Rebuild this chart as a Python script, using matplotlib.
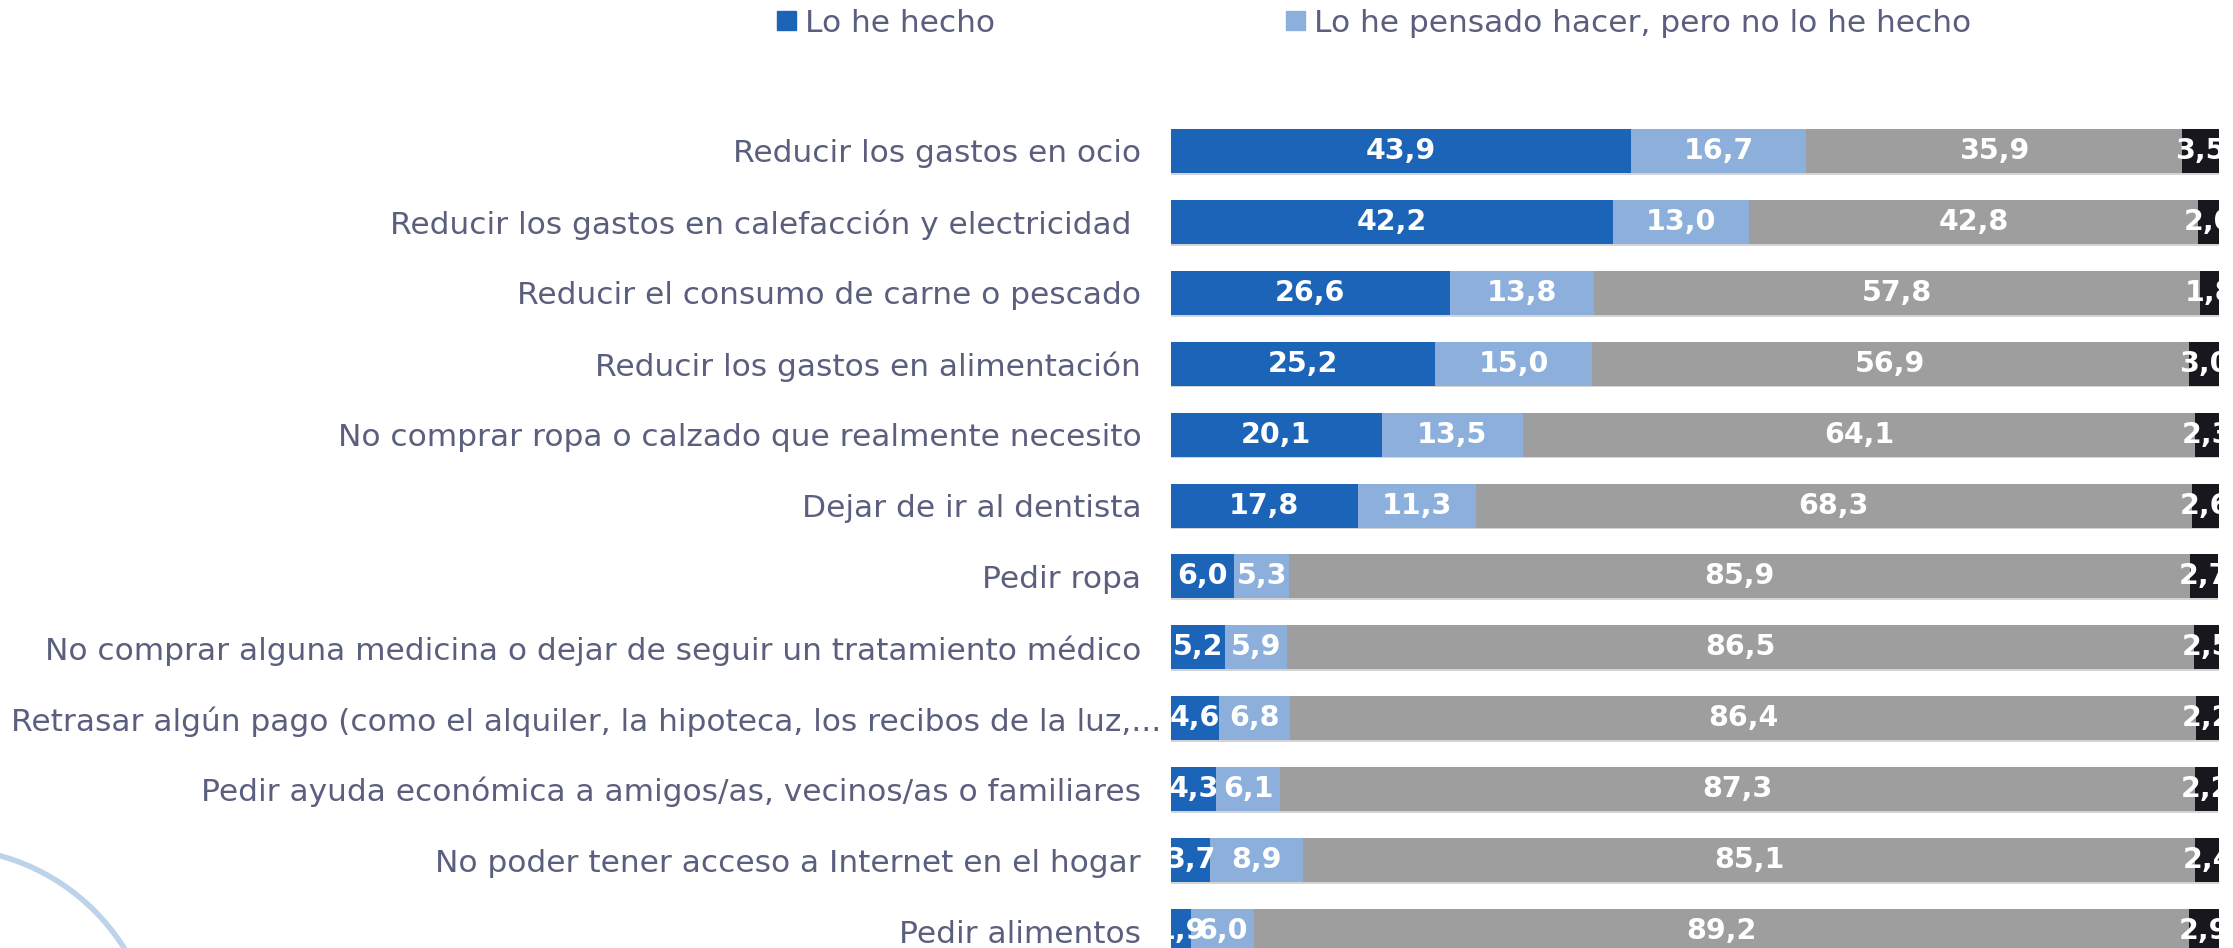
import matplotlib.pyplot as plt
from matplotlib.patches import Ellipse, Patch
from matplotlib.transforms import ScaledTranslation
import numpy as np

# Datos (porcentajes)
categorias = [
    "Reducir los gastos en ocio",
    "Reducir los gastos en calefacción y electricidad ",
    "Reducir el consumo de carne o pescado",
    "Reducir los gastos en alimentación",
    "No comprar ropa o calzado que realmente necesito",
    "Dejar de ir al dentista",
    "Pedir ropa",
    "No comprar alguna medicina o dejar de seguir un tratamiento médico",
    "Retrasar algún pago (como el alquiler, la hipoteca, los recibos de la luz,...",
    "Pedir ayuda económica a amigos/as, vecinos/as o familiares",
    "No poder tener acceso a Internet en el hogar",
    "Pedir alimentos",
]
hecho = [43.9, 42.2, 26.6, 25.2, 20.1, 17.8, 6.0, 5.2, 4.6, 4.3, 3.7, 1.9]
pensado = [16.7, 13.0, 13.8, 15.0, 13.5, 11.3, 5.3, 5.9, 6.8, 6.1, 8.9, 6.0]
no_hecho = [35.9, 42.8, 57.8, 56.9, 64.1, 68.3, 85.9, 86.5, 86.4, 87.3, 85.1, 89.2]
ns_nc = [3.5, 2.0, 1.8, 3.0, 2.3, 2.6, 2.7, 2.5, 2.2, 2.2, 2.4, 2.9]

series = [hecho, pensado, no_hecho, ns_nc]
nombres = ["Lo he hecho", "Lo he pensado hacer, pero no lo he hecho",
           "No lo he hecho ni lo he pensado", "NS/NC"]
colores = ["#1b64b7", "#8cb0db", "#9d9e9d", "#17171d"]

texto_color = "#5b5f7e"
plt.rcParams['font.family'] = ['DejaVu Sans']

fig = plt.figure(figsize=(22.33, 9.48), dpi=100)
W, H = 2233, 948
x0, x1 = 1171, 2219
top, bot = 115.5, 966.5
ax = fig.add_axes([x0 / W, (H - bot) / H, (x1 - x0) / W, (bot - top) / H])

y = np.arange(len(categorias))
alto = 0.62

# sombra bajo cada barra
totales = np.sum(series, axis=0)
ax.barh(y + 0.025, totales, height=alto, color="#d4d4d4", zorder=1)

izq = np.zeros(len(categorias))
for vals, col, nom in zip(series, colores, nombres):
    vals = np.array(vals)
    ax.barh(y, vals, left=izq, height=alto, color=col, label=nom, zorder=2)
    for yi, l, v in zip(y, izq, vals):
        ax.text(l + v / 2, yi, f"{v:.1f}".replace(".", ","), ha="center", va="center",
                color="white", fontsize=20.5, fontweight="bold", zorder=3, clip_on=True)
    izq += vals

ax.set_xlim(0, 100)
ax.set_ylim(len(categorias) - 0.5, -0.5)
ax.set_yticks(y)
ax.set_yticklabels(categorias, fontsize=22.5, color=texto_color)
ax.tick_params(axis="y", length=0, pad=21.5)
ax.set_xticks([])
for s in ax.spines.values():
    s.set_visible(False)

# la etiqueta recortada sobresale un poco a la derecha
lab = ax.get_yticklabels()[8]
lab.set_transform(lab.get_transform() + ScaledTranslation(0.2, 0, fig.dpi_scale_trans))

# leyenda (solo las dos primeras series son visibles)
handles = [Patch(color=colores[0]), Patch(color=colores[1])]
fig.legend(handles, nombres[:2], loc="center left", bbox_to_anchor=(749 / W, 1 - 23 / H),
           ncol=2, frameon=False, fontsize=22.5, labelcolor=texto_color,
           handlelength=0.6, handleheight=0.6, handletextpad=0.3, columnspacing=9.3)

# arco decorativo
arco = Ellipse((-57 / W, -114 / H), 2 * 214 / W, 2 * 214 / H, transform=fig.transFigure,
               fill=False, edgecolor="#bcd3ea", linewidth=4)
fig.patches.append(arco)

fig.savefig("out.png", dpi=100)
